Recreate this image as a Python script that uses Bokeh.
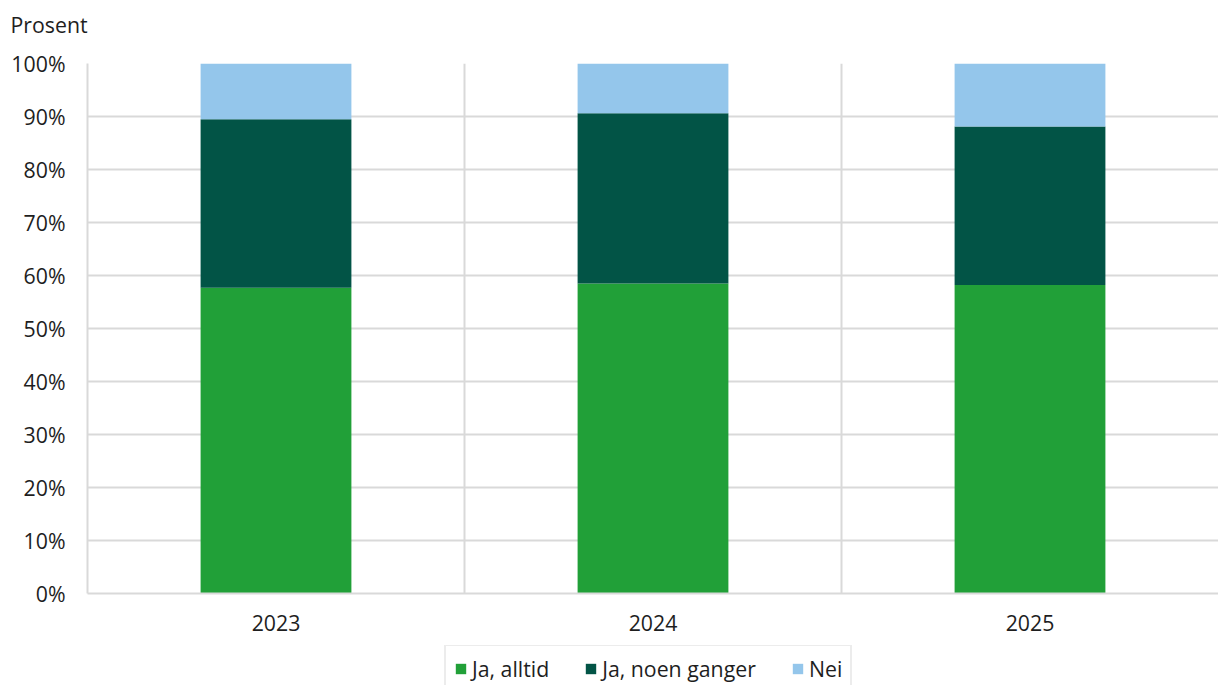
from bokeh.plotting import figure
from bokeh.layouts import column
from bokeh.models import ColumnDataSource, Range1d, FixedTicker, Grid, PrintfTickFormatter
from bokeh.embed import file_html
from bokeh.resources import INLINE

years = ["2023", "2024", "2025"]
ja_alltid = [57.7, 58.5, 58.2]
ja_noen = [31.8, 32.1, 29.9]
nei = [10.5, 9.4, 11.9]
series_names = ["Ja, alltid", "Ja, noen ganger", "Nei"]
colors = ["#21a038", "#025446", "#94c6eb"]
y_ticks = list(range(0, 101, 10))

FONT = "Open Sans"
FS = "21.3px"
TXT = "#1e1e1e"
GRID = "#d9d9d9"
W = 1218

xs = [i + 0.5 for i in range(len(years))]
src = ColumnDataSource(dict(x=xs, ja_alltid=ja_alltid, ja_noen=ja_noen, nei=nei))
stack = ["ja_alltid", "ja_noen", "nei"]

p = figure(width=W, height=645, output_backend="svg", toolbar_location=None,
           x_range=Range1d(0, len(years)), y_range=Range1d(0, 100),
           min_border_left=87, min_border_right=0, min_border_top=63, min_border_bottom=52)
p.outline_line_color = None
p.background_fill_color = "white"

p.vbar_stack(stack, x="x", width=0.4, color=colors, line_color=None, source=src)

# axes
p.xaxis.ticker = FixedTicker(ticks=xs)
p.xaxis.major_label_overrides = {x: y for x, y in zip(xs, years)}
p.yaxis.ticker = FixedTicker(ticks=y_ticks)
p.yaxis.formatter = PrintfTickFormatter(format="%d%%")
for ax in (p.xaxis[0], p.yaxis[0]):
    ax.major_tick_line_color = None
    ax.minor_tick_line_color = None
    ax.major_tick_out = 0
    ax.major_tick_in = 0
    ax.minor_tick_out = 0
    ax.axis_line_color = GRID
    ax.axis_line_width = 2
    ax.major_label_text_font = FONT
    ax.major_label_text_font_size = FS
    ax.major_label_text_color = TXT
p.yaxis.major_label_standoff = 22
p.xaxis.major_label_standoff = 21

p.ygrid.ticker = FixedTicker(ticks=y_ticks)
p.ygrid.grid_line_color = GRID
p.ygrid.grid_line_width = 2
p.xgrid.visible = False
p.add_layout(Grid(dimension=0, ticker=FixedTicker(ticks=list(range(len(years)))),
                  grid_line_color=GRID, grid_line_width=2))

# unit label at top-left
p.title.text = "Prosent"
p.title.align = "left"
p.title.offset = -77
p.title.text_font = FONT
p.title.text_font_size = FS
p.title.text_font_style = "normal"
p.title.text_color = TXT
p.title.standoff = 0
p.title.padding = dict(left=0, right=0, top=0, bottom=25)

# legend strip below the chart
lf = figure(width=W, height=40, output_backend="svg", toolbar_location=None,
            x_range=Range1d(0, 1), y_range=Range1d(0, 1),
            x_axis_type=None, y_axis_type=None,
            min_border_left=87, min_border_right=0, min_border_top=0, min_border_bottom=0)
lf.outline_line_color = None
lf.xgrid.visible = False
lf.ygrid.visible = False
rs = lf.vbar_stack(stack, x="x", width=0.4, color=colors, line_color=None,
                   source=src, legend_label=series_names)
for r in rs:
    r.visible = False

lg = lf.legend[0]
lg.orientation = "horizontal"
lg.location = (357, -8)
lg.label_text_font = FONT
lg.label_text_font_size = FS
lg.label_text_color = TXT
lg.glyph_width = 13
lg.glyph_height = 13
lg.label_standoff = 5
lg.spacing = 35
lg.padding = 8
lg.margin = 0
lg.border_line_color = GRID
lg.border_line_width = 2
lg.background_fill_alpha = 1

layout = column(p, lf, spacing=0)
open("out.html", "w").write(file_html(layout, INLINE))
